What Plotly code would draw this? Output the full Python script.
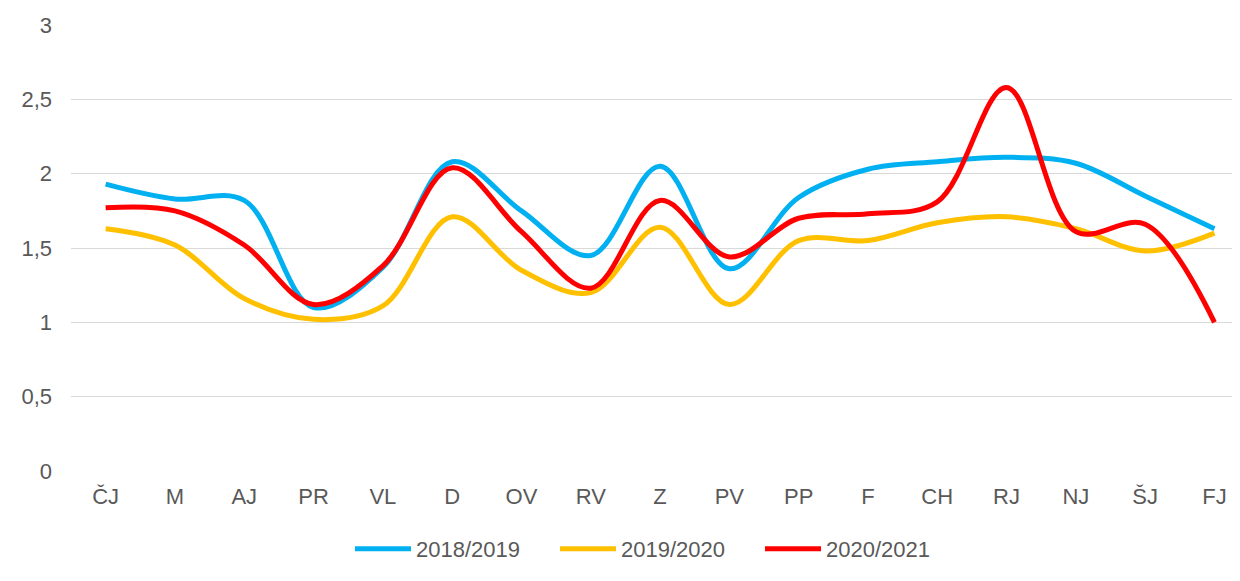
import plotly.graph_objects as go

categories = ["ČJ", "M", "AJ", "PR", "VL", "D", "OV", "RV", "Z", "PV", "PP", "F", "CH", "RJ", "NJ", "ŠJ", "FJ"]
s2018_2019 = [1.93, 1.83, 1.82, 1.10, 1.37, 2.08, 1.75, 1.45, 2.05, 1.36, 1.84, 2.03, 2.08, 2.11, 2.07, 1.85, 1.63]
s2019_2020 = [1.63, 1.52, 1.16, 1.02, 1.11, 1.71, 1.35, 1.20, 1.64, 1.12, 1.55, 1.55, 1.67, 1.71, 1.63, 1.48, 1.60]
s2020_2021 = [1.77, 1.75, 1.52, 1.12, 1.38, 2.04, 1.61, 1.23, 1.82, 1.44, 1.70, 1.73, 1.81, 2.58, 1.61, 1.66, 1.00]
y_ticks = [0, 0.5, 1, 1.5, 2, 2.5, 3]
y_tick_labels = ["0", "0,5", "1", "1,5", "2", "2,5", "3"]

series = [
    ("2018/2019", s2018_2019, "#00B0F0"),
    ("2019/2020", s2019_2020, "#FFC000"),
    ("2020/2021", s2020_2021, "#FF0000"),
]

fig = go.Figure()
for name, vals, color in series:
    fig.add_trace(go.Scatter(
        x=list(range(len(categories))), y=vals, name=name, mode="lines",
        line=dict(color=color, width=5, shape="spline", smoothing=1),
    ))

# page body has an 8px offset; figure sized to fill the rest of the window
W, H = 1232, 573
left, top, bottom = 63, 17, 110
plot_w = W - left
cat_px = 69.3
xmax = -0.5 + plot_w / cat_px

fig.update_layout(
    width=W, height=H,
    margin=dict(l=left, r=0, t=top, b=bottom),
    paper_bgcolor="white", plot_bgcolor="white",
    font=dict(family="Liberation Sans, Arial, sans-serif", size=22, color="#595959"),
    xaxis=dict(
        range=[-0.5, xmax], tickmode="array", tickvals=list(range(len(categories))),
        ticktext=categories, showgrid=False, zeroline=False, showline=False,
        ticks="", ticklabelstandoff=10, fixedrange=True,
    ),
    yaxis=dict(
        range=[0, 3], tickmode="array", tickvals=y_ticks, ticktext=y_tick_labels,
        showgrid=True, gridcolor="#D9D9D9", gridwidth=1, zeroline=False,
        showline=False, ticks="", ticklabelstandoff=18,
    ),
    legend=dict(
        orientation="h", x=342 / W, xref="container", xanchor="left",
        y=32 / H, yref="container", yanchor="middle",
        itemwidth=56, entrywidth=134, font=dict(size=22, color="#595959"),
        traceorder="normal",
    ),
    showlegend=True,
)

fig.write_html("out.html")
